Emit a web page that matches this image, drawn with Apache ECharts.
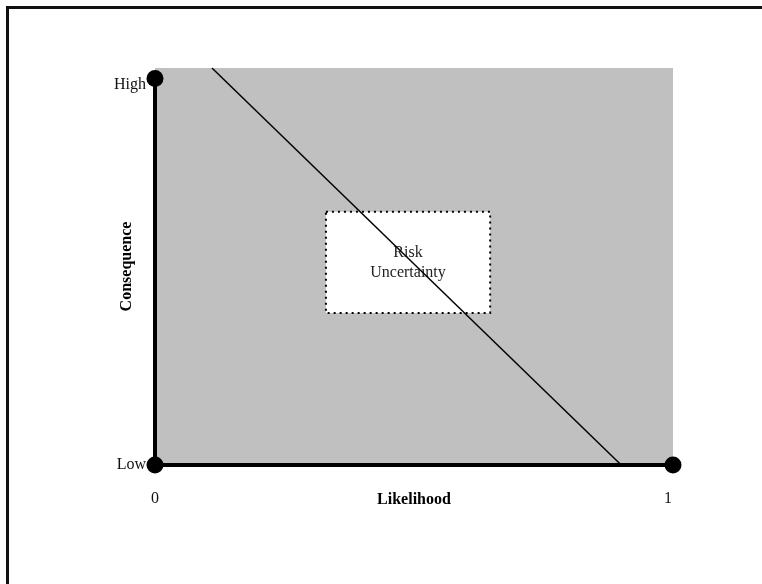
<!DOCTYPE html>
<html>
<head>
<meta charset="utf-8">
<style>
  html, body { margin: 0; padding: 0; background: #fff; }
  #chart { width: 762px; height: 584px; }
</style>
<script src="https://cdn.jsdelivr.net/npm/echarts@6/dist/echarts.min.js"></script>
</head>
<body>
<div id="chart"></div>
<script>
// ---- data ----
var xTickLabels = ['0', '1'];          // at likelihood 0 and 1
var yTickLabels = ['Low', 'High'];     // at consequence 0 and 1
var xAxisName = 'Likelihood';
var yAxisName = 'Consequence';
var yMax = 1.027;                      // grey field reaches a bit above "High"
var verticalAxisPts = [[0, 0], [0, 1]];
var horizontalAxisPts = [[0, 0], [1, 0]];
var endPoints = [[0, 1], [0, 0], [1, 0]];
var riskLine = [[0.110, 1.027], [0.900, 0]];
var boxX = [0.330, 0.647];
var boxY = [0.393, 0.655];
var boxText = ['Risk', 'Uncertainty'];

var serif = '"Liberation Serif", "Times New Roman", serif';

var chart = echarts.init(document.getElementById('chart'), null, { renderer: 'canvas' });

chart.setOption({
  animation: false,
  backgroundColor: '#ffffff',
  graphic: [{
    type: 'rect',
    z: 100,
    shape: { x: 7.5, y: 7.5, width: 1000, height: 1000 },
    style: { fill: 'none', stroke: '#111', lineWidth: 3 }
  }],
  grid: {
    left: 155, right: 89, top: 68, bottom: 119,
    show: true, backgroundColor: '#c0c0c0', borderWidth: 0
  },
  xAxis: {
    type: 'value', min: 0, max: 1, interval: 1,
    axisLine: { show: false }, axisTick: { show: false }, splitLine: { show: false },
    axisLabel: {
      margin: 26, fontFamily: serif, fontSize: 16, color: '#111',
      formatter: function (v) {
        if (v === 0) return xTickLabels[0];
        if (v === 1) return '{r|' + xTickLabels[1] + '}';
        return '';
      },
      rich: { r: { fontFamily: serif, fontSize: 16, color: '#111', padding: [0, 10, 0, 0] } }
    },
    name: xAxisName, nameLocation: 'middle', nameGap: 27, nameMoveOverlap: false,
    nameTextStyle: { fontFamily: serif, fontSize: 16, fontWeight: 'bold', color: '#000' }
  },
  yAxis: {
    type: 'value', min: 0, max: yMax, interval: 1,
    axisLine: { show: false }, axisTick: { show: false }, splitLine: { show: false },
    axisLabel: {
      margin: 9, fontFamily: serif, fontSize: 16, color: '#111',
      formatter: function (v) {
        if (v === 0) return yTickLabels[0];
        if (v === 1) return '{h|' + yTickLabels[1] + '}';
        return '';
      },
      rich: { h: { fontFamily: serif, fontSize: 16, color: '#111', padding: [12, 0, 0, 0] } }
    },
    name: yAxisName, nameLocation: 'middle', nameGap: 20, nameMoveOverlap: false,
    nameTextStyle: { fontFamily: serif, fontSize: 16, fontWeight: 'bold', color: '#000' }
  },
  series: [
    {
      type: 'line', z: 1, data: [], silent: true,
      markArea: {
        silent: true,
        itemStyle: { color: '#ffffff', opacity: 1, borderColor: '#000', borderWidth: 2, borderType: [2, 4] },
        label: {
          show: true, position: 'inside', formatter: boxText.join('\n'),
          fontFamily: serif, fontSize: 16, lineHeight: 20, color: '#222'
        },
        data: [[{ coord: [boxX[0], boxY[1]] }, { coord: [boxX[1], boxY[0]] }]]
      }
    },
    {
      type: 'line', z: 5, data: riskLine, symbol: 'none', silent: true,
      lineStyle: { color: '#000', width: 1.5 }
    },
    {
      type: 'line', z: 6, data: verticalAxisPts, symbol: 'none', silent: true,
      lineStyle: { color: '#000', width: 4 }
    },
    {
      type: 'line', z: 6, data: horizontalAxisPts, symbol: 'none', silent: true,
      lineStyle: { color: '#000', width: 4 }
    },
    {
      type: 'scatter', z: 7, data: endPoints, symbol: 'circle', symbolSize: 17, silent: true,
      itemStyle: { color: '#000', opacity: 1 }
    }
  ]
});
</script>
</body>
</html>
